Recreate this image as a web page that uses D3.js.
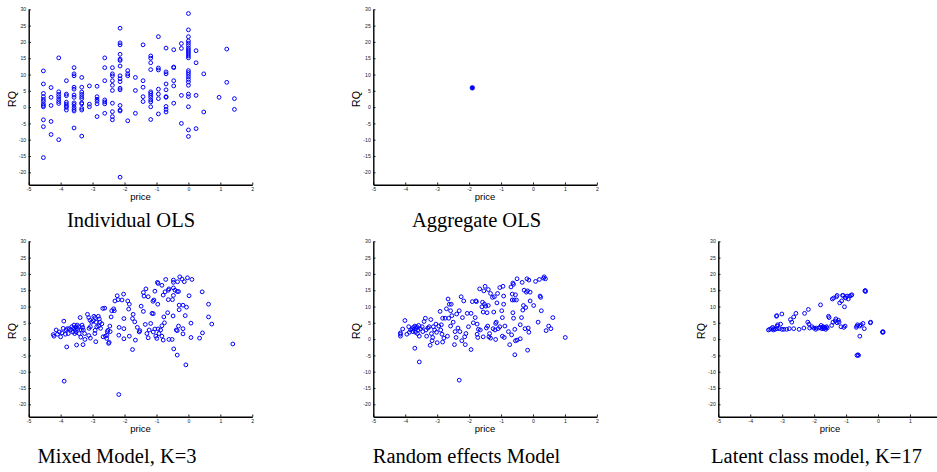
<!DOCTYPE html>
<html><head><meta charset="utf-8">
<script src="https://cdn.jsdelivr.net/npm/d3@7"></script>
<style>
html,body{margin:0;padding:0;background:#fff;}
svg{display:block;}
</style></head>
<body><svg id="c" width="937" height="472"></svg>
<script>
// ---------- DATA ----------
const xTicks = [-5,-4,-3,-2,-1,0,1,2];
const yTicks = [-20,-15,-10,-5,0,5,10,15,20,25,30];
const xLabel = "price";
const yLabel = "RQ";
const captions = ["Individual OLS","Aggregate OLS","Mixed Model, K=3","Random effects Model","Latent class model, K=17"];

// Individual OLS: discrete price columns with RQ values
const indPrices = [-4.54,-4.30,-4.06,-3.82,-3.58,-3.34,-3.10,-2.86,-2.62,-2.38,-2.14,-1.90,-1.66,-1.42,-1.18,-0.94,-0.70,-0.46,-0.22,0,0.24,0.48,0.96,1.20,1.44];
const indRQ = [
 [11.1,7.1,4.2,3.2,2.4,1.8,1.0,0.5,0.1,-3.9,-6.0,-15.5],
 [6.0,3.0,0.5,-4.4,-8.4],
 [15.1,4.7,3.9,3.2,2.4,1.7,1.1,-10.0],
 [8.1,4.0,3.5,1.5,0.9,0.3,-0.1,-0.9],
 [12.1,10.2,9.6,6.1,5.5,3.7,3.0,1.3,0.8,-0.1,-0.7,-1.2,-6.4],
 [9.1,6.1,4.6,3.9,3.2,2.6,1.3,1.0,-0.4,-0.9,-8.9],
 [6.5,0.9,0.1],
 [6.4,3.2,2.4,1.8,1.0,-2.9],
 [15.1,12.1,8.1,2.2,1.6,1.0,-1.9],
 [12.1,10.2,9.6,8.1,6.7,5.1,1.2,-1.4,-2.9,-3.9],
 [24.2,19.7,19.1,16.2,14.7,14.3,12.6,9.6,8.7,7.8,5.8,5.3,0.5,-0.9,-1.2,-21.5],
 [11.2,10.2,9.6,-4.2],
 [9.1,5.1,-1.9],
 [19.1,8.1,6.1,3.2,1.7],
 [15.7,15.0,13.6,11.5,4.7,4.2,3.6,3.0,2.2,1.6,0.1,-3.8],
 [21.6,12.0,11.4,5.5,4.0,2.6,-2.1],
 [18.1,10.8,10.2,7.1,5.3,3.2,3.0,0.2,-0.7,-1.5],
 [17.6,12.3,12.1,8.1,6.5,1.2],
 [19.5,18.0,3.6,-5.0],
 [28.7,23.7,21.6,20.3,19.6,18.9,18.1,17.5,16.9,16.3,15.7,15.1,11.2,10.6,10.0,9.3,8.5,7.7,6.7,4.0,3.2,0.1,-7.0,-9.0],
 [17.3,13.6,3.6,-6.6],
 [10.2,-1.5],
 [3.0],
 [17.8,7.6],
 [2.6,-0.7]
];

// Aggregate OLS: single estimate
const aggPoint = [[-1.9, 5.9]];

// Mixed Model, K=3: [price, RQ]
const mixedModel = [
 [-3.89,-12.9],[-2.18,-17.0],[1.39,-1.5],[-0.08,-7.9],[-0.35,-4.9],[-0.46,-3.0],[-1.75,-3.2],[-3.5,-1.8],[-3.3,-1.7],[-2.9,-0.8],[-2.5,-1.3],[-2.48,-1.0],[-3.81,-2.4],
 [0.43,14.5],[0.63,10.7],[0.63,6.8],[0.73,4.6],[0.35,0.3],[0.44,1.9],[0.08,4.9],[0.08,0.5],[0.02,13.3],[-0.1,7.2],[-0.06,9.8],[-0.17,10.4],[-0.17,3.2],[-0.17,1.6],[-0.31,4.0],[-0.29,9.0],[-0.29,10.4],
 [-0.27,19.1],[-0.03,18.8],[0.11,18.3],[-0.2,18.4],[-0.13,17.6],[-0.34,17.6],[-0.47,18.1],[-0.47,17.4],[-0.71,18.3],[-0.97,17.4],[-0.95,17.1],[-0.83,16.5],[-0.63,15.0],[-0.61,15.4],[-0.42,15.0],[-0.35,14.6],[-0.31,14.6],[-0.73,14.5],[-1.05,14.7],[-1.33,15.4],[-1.41,14.3],[-1.39,13.2],[-1.26,13.0],[-1.08,12.0],[-1.11,11.6],[-0.96,10.7],[-0.79,13.5],[-0.63,12.1],[-0.5,12.1],[-0.47,15.7],[-0.47,13.4],
 [-1.9,11.7],[-1.85,10.7],[-2.03,13.8],[-2.2,12.1],[-2.08,12.0],[-2.23,13.3],[-2.3,11.7],[-2.32,8.7],[-2.34,9.3],[-2.4,8.7],[-2.42,6.8],[-2.68,9.4],[-1.87,9.2],[-2.02,6.3],[-2.17,3.6],[-2.02,3.2],[-1.85,0.9],[-2.02,0.1],[-2.18,1.2],[-1.75,6.3],[-1.73,7.6],[-1.68,5.3],[-1.66,-0.3],[-1.6,3.6],[-1.54,2.2],[-1.52,2.6],[-1.48,10.1],[-1.41,8.5],[-1.35,4.5],[-1.26,0.4],[-1.3,1.7],[-1.23,2.8],[-1.18,4.8],[-1.14,7.9],[-1.1,7.8],[-1.1,2.2],[-1.05,3.1],[-1.02,0.9],[-0.95,3.1],[-0.99,0.2],[-0.83,4.1],[-0.77,6.8],[-0.75,5.0],[-0.83,0.9],[-0.79,-0.3],[-0.65,8.1],[-0.61,-0.1],[-0.51,-0.1],[-0.48,7.1],[-0.38,2.8],[-0.35,2.6],[-0.87,2.8],[-0.92,1.7],
 [-3.39,6.6],[-3.16,7.6],[-3.12,6.6],[-3.08,5.8],[-3.03,5.2],[-2.98,5.6],[-2.96,7.0],[-2.92,6.6],[-2.89,5.2],[-2.82,7.0],[-2.79,6.2],[-2.77,5.2],[-2.75,3.3],[-2.71,4.7],[-2.67,0.7],[-2.6,0.9],[-2.56,0.2],[-2.54,2.3],[-2.52,2.7],[-2.46,4.0],[-3.11,3.3],[-3.07,3.8],[-3.12,1.1],[-3.07,0.3],[-2.92,2.7],[-2.93,1.7],[-2.87,3.8],[-2.81,4.0],[-3.24,-0.1],[-3.25,1.7],[-3.31,3.6],[-3.29,2.8],[-3.33,4.3],[-3.35,2.8],[-3.37,0.6],[-3.44,3.8],[-3.48,3.2],[-3.52,3.8],[-3.54,2.8],[-3.56,1.7],[-3.6,3.3],[-3.62,2.2],[-3.65,3.8],[-3.69,2.8],[-3.73,3.2],[-3.76,1.7],[-3.79,3.2],[-3.83,2.8],[-3.85,1.5],[-3.92,3.3],[-3.96,1.9],[-4.0,0.7],[-4.04,2.2],[-4.1,1.5],[-4.14,2.8],[-4.21,0.9],[-4.23,1.4],[-3.48,4.3],[-3.42,1.7],[-3.58,4.3],[-3.52,2.2],[-3.9,5.5],[-2.55,1.2],[-2.45,2.3],[-2.62,9.5]
];

// Random effects Model: [price, RQ]
const randomEffects = [
 [-4.15,0.9],[-4.15,1.5],[-4.15,1.9],[-4.08,3.1],[-4.01,5.7],[-3.95,1.5],[-3.89,3.8],[-3.87,2.1],[-3.83,2.8],[-3.79,3.2],[-3.76,2.3],[-3.74,3.6],[-3.72,3.0],[-3.7,-2.8],[-3.7,4.0],[-3.68,2.1],[-3.66,3.2],[-3.64,3.8],[-3.62,1.7],[-3.6,2.8],[-3.58,4.2],[-3.56,-7.0],[-3.56,0.9],[-3.52,3.2],[-3.47,3.8],[-3.45,2.3],[-3.41,5.4],[-3.37,6.4],[-3.35,2.8],[-3.33,0.9],[-3.29,3.4],[-3.25,3.8],[-3.22,-1.9],[-3.2,6.0],[-3.18,1.7],[-3.16,-0.5],[-3.14,0.5],[-3.12,3.8],[-3.08,2.8],[-3.04,4.6],[-3.02,2.1],[-3.0,-1.1],[-2.95,4.0],[-2.91,8.5],[-2.89,2.8],[-2.87,4.4],[-2.85,1.5],[-2.83,-0.9],[-2.83,6.4],[-2.79,0.3],[-2.75,6.4],[-2.71,9.3],[-2.68,0.9],[-2.66,12.3],[-2.64,6.4],[-2.62,10.7],[-2.58,8.7],[-2.58,4.0],[-2.56,10.7],[-2.54,7.2],[-2.5,5.2],[-2.46,-1.7],[-2.44,2.3],[-2.41,0.5],[-2.39,7.7],[-2.35,3.4],[-2.31,8.7],[-2.31,-12.6],[-2.29,2.3],[-2.25,13.0],[-2.23,-0.5],[-2.21,6.6],[-2.17,11.7],[-2.14,0.7],[-2.12,-1.7],[-2.1,1.7],[-2.06,7.9],[-2.02,3.8],[-1.94,7.9],[-1.94,-3.2],[-1.9,11.5],[-1.87,5.0],[-1.81,6.6],[-1.79,11.7],[-1.77,11.5],[-1.75,1.5],[-1.75,4.6],[-1.73,0.5],[-1.71,3.0],[-1.67,15.4],[-1.65,2.8],[-1.6,9.9],[-1.58,11.3],[-1.56,8.3],[-1.56,0.7],[-1.54,14.8],[-1.52,10.7],[-1.5,16.2],[-1.48,10.1],[-1.46,3.4],[-1.44,8.1],[-1.42,4.0],[-1.4,15.2],[-1.4,10.3],[-1.38,0.7],[-1.36,1.7],[-1.33,14.0],[-1.33,0.3],[-1.27,12.8],[-1.25,3.2],[-1.23,8.3],[-1.21,13.0],[-1.19,2.8],[-1.17,4.8],[-1.17,-0.1],[-1.15,5.2],[-1.13,11.1],[-1.11,14.0],[-1.09,3.2],[-1.04,15.8],[-1.04,3.8],[-0.98,8.7],[-0.96,6.6],[-0.96,0.9],[-0.94,16.2],[-0.92,13.2],[-0.92,10.7],[-0.9,0.5],[-0.88,4.0],[-0.77,2.3],[-0.73,-1.7],[-0.69,16.0],[-0.67,1.3],[-0.65,13.8],[-0.65,12.0],[-0.63,17.2],[-0.63,8.1],[-0.61,6.4],[-0.61,16.8],[-0.59,12.0],[-0.57,3.0],[-0.57,-4.8],[-0.55,13.6],[-0.55,-0.5],[-0.52,12.0],[-0.5,18.5],[-0.5,-0.3],[-0.4,4.4],[-0.4,0.1],[-0.36,6.6],[-0.34,17.4],[-0.32,8.9],[-0.3,10.3],[-0.28,15.0],[-0.25,3.2],[-0.23,9.7],[-0.21,14.4],[-0.19,18.5],[-0.17,14.8],[-0.17,-3.4],[-0.15,3.4],[-0.13,18.1],[-0.13,2.1],[-0.09,14.4],[-0.09,11.7],[0.02,10.3],[0.08,17.7],[0.16,5.2],[0.2,18.3],[0.22,13.2],[0.24,12.8],[0.26,8.7],[0.33,18.7],[0.35,19.1],[0.39,18.5],[0.41,2.6],[0.49,4.0],[0.56,3.2],[0.62,6.6],[1.01,0.5]
];

// Latent class model, K=17: [price, RQ]
const latentClass = [
 [-3.43,2.8],[-3.39,3.0],[-3.34,3.2],[-3.3,3.6],[-3.28,2.8],[-3.26,3.2],[-3.22,3.0],[-3.16,3.2],[-3.18,7.0],[-3.17,7.2],[-3.16,4.0],[-3.14,4.4],[-3.09,3.2],[-3.05,4.6],[-3.01,7.7],[-3.01,3.0],[-2.95,3.0],[-2.86,3.0],[-2.78,3.2],[-2.74,6.0],[-2.70,5.2],[-2.64,3.2],[-2.64,6.8],[-2.57,7.9],[-2.47,3.0],[-2.32,3.4],[-2.3,7.9],[-2.2,5.2],[-2.18,9.1],[-2.16,4.6],[-2.14,3.4],[-2.07,3.8],[-2.01,3.4],[-1.95,3.0],[-1.93,3.4],[-1.86,3.4],[-1.82,3.6],[-1.8,10.5],[-1.78,4.2],[-1.76,3.2],[-1.74,3.6],[-1.72,3.8],[-1.7,3.2],[-1.68,3.4],[-1.66,3.6],[-1.64,3.0],[-1.61,3.8],[-1.59,3.4],[-1.55,7.0],[-1.53,6.6],[-1.45,4.2],[-1.43,12.3],[-1.41,5.2],[-1.39,12.6],[-1.34,5.6],[-1.32,6.2],[-1.3,13.0],[-1.28,13.4],[-1.28,5.0],[-1.24,5.8],[-1.22,5.2],[-1.2,11.1],[-1.16,3.8],[-1.14,11.7],[-1.11,13.4],[-1.09,13.4],[-1.07,3.6],[-1.05,9.9],[-1.03,12.8],[-1.03,4.0],[-1.01,12.6],[-0.97,13.2],[-0.93,12.3],[-0.89,13.2],[-0.84,13.4],[-0.82,13.6],[-0.68,3.6],[-0.66,4.0],[-0.66,-5.0],[-0.64,4.4],[-0.63,-4.8],[-0.61,-5.0],[-0.57,4.0],[-0.57,0.9],[-0.53,4.4],[-0.47,4.8],[-0.43,3.2],[-0.41,14.8],[-0.39,14.6],[-0.4,14.9],[-0.24,5.0],[-0.23,5.2],[0.14,2.1],[0.16,2.1],[0.15,2.3]
];

// ---------- LAYOUT ----------
const svg = d3.select("#c");
const SVG_W = 937;
const PW = 223.6, PH = 175.4;
const colX = [28.7, 373.3, 718.3];
const rowY = [9.3, 241.3];
const xDomain = [-5, 2], yDomain = [-23.8, 30];
const BLUE = "#0000ff";

const individualOLS = indPrices.flatMap((p,i)=>indRQ[i].map(v=>[p,v]));

const panels = [
  {col:0,row:0,data:individualOLS,cap:captions[0],capX:131,filled:false},
  {col:1,row:0,data:aggPoint,cap:captions[1],capX:476.5,filled:true},
  {col:0,row:1,data:mixedModel,cap:captions[2],capX:117,filled:false},
  {col:1,row:1,data:randomEffects,cap:captions[3],capX:466.5,filled:false},
  {col:2,row:1,data:latentClass,cap:captions[4],capX:816.5,filled:false}
];
const capBase = [226.5, 462.5];

panels.forEach(p=>{
  const L = colX[p.col], T = rowY[p.row];
  const x = d3.scaleLinear().domain(xDomain).range([L, L+PW]);
  const y = d3.scaleLinear().domain(yDomain).range([T+PH, T]);
  const g = svg.append("g");

  const fmt = d=>String(d);
  // the page edge crops the rightmost panel; only ticks that fit are drawn
  const visXTicks = xTicks.filter(t=>x(t) < SVG_W - 3);
  const ax = g.append("g").attr("transform",`translate(0,${T+PH})`)
    .call(d3.axisBottom(x).tickValues(visXTicks).tickFormat(fmt).tickSizeInner(-2.2).tickSizeOuter(0).tickPadding(3));
  const ay = g.append("g").attr("transform",`translate(${L},0)`)
    .call(d3.axisLeft(y).tickValues(yTicks).tickFormat(fmt).tickSizeInner(-2.2).tickSizeOuter(0).tickPadding(2.5));
  [ax,ay].forEach(a=>{
    a.select(".domain").attr("stroke","#000").attr("stroke-width",1.4);
    a.selectAll(".tick line").attr("stroke","#000").attr("stroke-width",0.9);
    a.selectAll(".tick text").attr("fill","#222").style("font-family","'Liberation Sans',Arial,sans-serif").style("font-size","5.2px");
  });

  g.append("text").attr("x",L+PW/2).attr("y",T+PH+15.5).attr("text-anchor","middle")
    .style("font-family","'Liberation Sans',Arial,sans-serif").style("font-size","9.5px").attr("fill","#000").text(xLabel);
  g.append("text").attr("transform",`translate(${L-13},${T+PH/2+2}) rotate(-90)`).attr("text-anchor","middle")
    .style("font-family","'Liberation Sans',Arial,sans-serif").style("font-size","10.5px").attr("fill","#000").text(yLabel);

  g.append("g").selectAll("circle").data(p.data).join("circle")
    .attr("cx",d=>x(d[0])).attr("cy",d=>y(d[1]))
    .attr("r", p.filled?2.3:1.9)
    .attr("fill", p.filled?BLUE:"none")
    .attr("stroke",BLUE).attr("stroke-width",p.filled?0.6:1);

  svg.append("text").attr("x",p.capX).attr("y",capBase[p.row]).attr("text-anchor","middle")
    .style("font-family","'Liberation Serif','Times New Roman',serif").style("font-size","20.5px").attr("fill","#000").text(p.cap);
});
</script></body></html>
